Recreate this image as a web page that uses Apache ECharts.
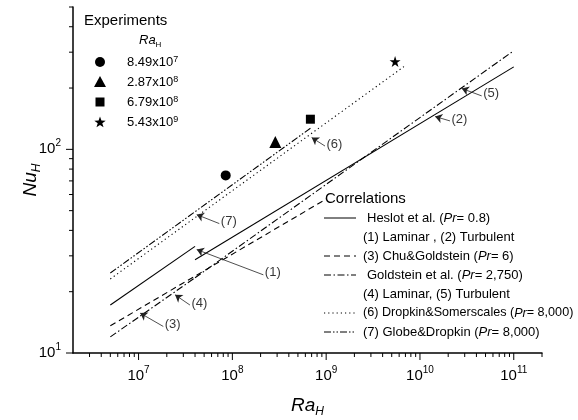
<!DOCTYPE html>
<html>
<head>
<meta charset="utf-8">
<script src="https://cdn.jsdelivr.net/npm/echarts@6/dist/echarts.min.js"></script>
<style>html,body{margin:0;padding:0;background:#fff}#c{width:578px;height:420px}</style>
</head>
<body>
<div id="c"></div>
<script>
// ---------------- data ----------------
const xMin = 2e6, xMax = 2e11, yMin = 10, yMax = 500;
const xMajorTicks = [1e7, 1e8, 1e9, 1e10, 1e11];
const yMajorTicks = [10, 100];
const minorMultipliers = [2, 3, 4, 5, 6, 7, 8, 9];

// experiments
const expRa = [8.49e7, 2.87e8, 6.79e8, 5.43e9];
const expNu = [74.5, 108.7, 140.6, 270];
const expLegend = ['8.49x10{sup|7}', '2.87x10{sup|8}', '6.79x10{sup|8}', '5.43x10{sup|9}'];

// correlations (end points of each power-law segment)
const heslotLamRa = [5e6, 4e7],  heslotLamNu = [17.2, 33.4];
const heslotTurbRa = [4e7, 1e11], heslotTurbNu = [28.7, 254];
const chuRa = [5e6, 1e9],        chuNu = [13.6, 57];
const goldLamRa = [5e6, 4e7],    goldLamNu = [12.0, 23.4];
const goldTurbRa = [4e7, 1e11],  goldTurbNu = [23.4, 305];
const dropRa = [5e6, 7e9],       dropNu = [23.1, 258];
const globeRa = [5e6, 6.8e8],    globeNu = [24.7, 127];

// annotation arrows (tip on curve, tail at label)
const annNames  = ['(1)', '(2)', '(3)', '(4)', '(5)', '(6)', '(7)'];
const annTipRa  = [4.17e7, 1.45e10, 1.04e7, 2.45e7, 2.79e10, 7.01e8, 4.17e7];
const annTipNu  = [32.2, 144.9, 15.7, 19.3, 199, 114.2, 47.8];
const annTailRa = [2.14e8, 2.09e10, 1.835e7, 3.53e7, 4.55e10, 9.72e8, 7.26e7];
const annTailNu = [24.2, 137.9, 13.5, 17.2, 183, 103.8, 43.2];

// legend texts
const corrTitle = 'Correlations';
const corrTexts = [
  'Heslot et al. ({i|Pr}= 0.8)',
  '(1) Laminar , (2) Turbulent',
  '(3) Chu&Goldstein ({i|Pr}= 6)',
  'Goldstein et al. ({i|Pr}= 2,750)',
  '(4) Laminar, (5) Turbulent',
  '(6) Dropkin&Somerscales ({i|Pr}= 8,000)',
  '(7) Globe&Dropkin ({i|Pr}= 8,000)'
];
const expTitle = 'Experiments';

// ---------------- styles ----------------
const FONT = '"Liberation Sans", Arial, Helvetica, sans-serif';
const DASH = {
  solid: 'solid',
  dashed: [6, 4],
  dashdot: [7, 2.5, 1.5, 2.5],
  dotted: [1.2, 3],
  dashdotdot: [7, 2, 1.5, 2, 1.5, 2]
};
const STAR = 'path://M50 0 L61.23 34.55 L97.55 34.55 L68.17 55.9 L79.39 90.45 L50 69.1 L20.61 90.45 L31.83 55.9 L2.45 34.55 L38.77 34.55 Z';
const expSymbols = ['circle', 'triangle', 'rect', STAR];
const expSizes = [10, 12, 9, 11];

function zip(a, b) { return a.map((v, i) => [v, b[i]]); }
function lineSeries(name, ra, nu, dash) {
  return {
    type: 'line', name: name, data: zip(ra, nu), symbol: 'none', silent: true,
    lineStyle: { color: '#000', width: 1.1, type: dash, cap: 'butt', opacity: 1 }, z: 3
  };
}
function fmtPow(v) {
  const l = Math.log10(v);
  const e = Math.round(l);
  if (Math.abs(l - e) > 1e-6) return '';
  return '10{sup|' + e + '}';
}

// tick values
const xTicks = [];
for (let e = 6; e <= 11; e++) {
  minorMultipliers.forEach(m => { const v = m * Math.pow(10, e); if (v > xMin * 1.0001 && v <= xMax * 1.0001) xTicks.push([v, yMin, 0]); });
}
xMajorTicks.forEach(v => xTicks.push([v, yMin, 1]));
const yTicks = [];
for (let e = 1; e <= 2; e++) {
  minorMultipliers.forEach(m => { const v = m * Math.pow(10, e); if (v <= yMax * 1.0001) yTicks.push([xMin, v, 0]); });
}
yMajorTicks.forEach(v => yTicks.push([xMin, v, 1]));

const series = [
  lineSeries('Heslot laminar', heslotLamRa, heslotLamNu, DASH.solid),
  lineSeries('Heslot turbulent', heslotTurbRa, heslotTurbNu, DASH.solid),
  lineSeries('Chu&Goldstein', chuRa, chuNu, DASH.dashed),
  lineSeries('Goldstein laminar', goldLamRa, goldLamNu, DASH.dashdot),
  lineSeries('Goldstein turbulent', goldTurbRa, goldTurbNu, DASH.dashdot),
  lineSeries('Dropkin&Somerscales', dropRa, dropNu, DASH.dotted),
  lineSeries('Globe&Dropkin', globeRa, globeNu, DASH.dashdotdot)
];
expRa.forEach((ra, i) => {
  series.push({
    type: 'scatter', name: 'exp' + i, data: [[ra, expNu[i]]],
    symbol: expSymbols[i], symbolSize: expSizes[i], silent: true,
    itemStyle: { color: '#000', opacity: 1 }, z: 5
  });
});
series.push({
  type: 'lines', coordinateSystem: 'cartesian2d', silent: true, z: 4,
  symbol: ['none', 'arrow'], symbolSize: [0, 7],
  lineStyle: { color: '#222', width: 0.8, opacity: 1 },
  data: annNames.map((n, i) => ({ coords: [[annTailRa[i], annTailNu[i]], [annTipRa[i], annTipNu[i]]] }))
});
series.push({
  type: 'scatter', silent: true, z: 6, symbolSize: 1,
  itemStyle: { color: 'rgba(0,0,0,0)' },
  label: { show: true, position: 'right', distance: 1, offset: [0, -2], formatter: '{b}', color: '#000', fontSize: 13, fontFamily: FONT },
  data: annNames.map((n, i) => ({ name: n, value: [annTailRa[i], annTailNu[i]] }))
});
function tickSeries(data, horizontal) {
  return {
    type: 'custom', coordinateSystem: 'cartesian2d', silent: true, clip: false, z: 10,
    data: data,
    renderItem: function (params, api) {
      const p = api.coord([api.value(0), api.value(1)]);
      const len = api.value(2) ? 7 : 4;
      const shape = horizontal
        ? { x1: p[0], y1: p[1], x2: p[0] - len, y2: p[1] }
        : { x1: p[0], y1: p[1], x2: p[0], y2: p[1] + len };
      return { type: 'line', shape: shape, style: { stroke: '#000', lineWidth: 1 } };
    }
  };
}
series.push(tickSeries(xTicks, false));
series.push(tickSeries(yTicks, true));

// ---------------- legend graphics ----------------
const graphic = [];
function txt(x, y, text, size, rich) {
  return {
    type: 'text', x: x, y: y, silent: true,
    style: { text: text, fontSize: size, fontFamily: FONT, fill: '#000', align: 'left', verticalAlign: 'middle', rich: rich || {} }
  };
}
function starPoints(cx, cy, R, r) {
  const pts = [];
  for (let k = 0; k < 10; k++) {
    const a = (-90 + k * 36) * Math.PI / 180;
    const rad = k % 2 === 0 ? R : r;
    pts.push([cx + rad * Math.cos(a), cy + rad * Math.sin(a)]);
  }
  return pts;
}
graphic.push(txt(84, 21, expTitle, 15));
graphic.push(txt(139, 40, '{i|Ra}{sub|H}', 13, {
  i: { fontSize: 13, fontStyle: 'italic', fontFamily: FONT, fill: '#000', lineHeight: 18 },
  sub: { fontSize: 8, lineHeight: 8, verticalAlign: 'bottom', fontFamily: FONT, fill: '#000' }
}));
const expLegY = [62, 82, 102, 122];
graphic.push({ type: 'circle', silent: true, shape: { cx: 100, cy: expLegY[0], r: 5 }, style: { fill: '#000' } });
graphic.push({ type: 'polygon', silent: true, shape: { points: [[100, expLegY[1] - 6], [106, expLegY[1] + 5], [94, expLegY[1] + 5]] }, style: { fill: '#000' } });
graphic.push({ type: 'rect', silent: true, shape: { x: 95.5, y: expLegY[2] - 4.5, width: 9, height: 9 }, style: { fill: '#000' } });
graphic.push({ type: 'polygon', silent: true, shape: { points: starPoints(100, expLegY[3] + 0.5, 6, 2.4) }, style: { fill: '#000' } });
expLegend.forEach((t, i) => graphic.push(txt(127, expLegY[i], t, 13, { sup: { fontSize: 9, lineHeight: 8, verticalAlign: 'top', fontFamily: FONT, fill: '#000' } })));

graphic.push(txt(325, 199, corrTitle, 15));
const corrY = [218, 237, 256, 275, 294, 313, 332];
const corrX = [367, 363, 363, 367, 363, 363, 363];
const corrSize = [13, 13, 13, 13, 13, 12.6, 13];
const corrDash = [DASH.solid, null, DASH.dashed, DASH.dashdot, null, DASH.dotted, DASH.dashdotdot];
corrTexts.forEach((t, i) => {
  graphic.push(txt(corrX[i], corrY[i], t, corrSize[i], { i: { fontSize: corrSize[i], fontStyle: 'italic', fontFamily: FONT, fill: '#000' } }));
  if (corrDash[i]) {
    graphic.push({
      type: 'line', silent: true,
      shape: { x1: 324, y1: corrY[i], x2: 356, y2: corrY[i] },
      style: { stroke: '#000', lineWidth: 1, lineDash: corrDash[i] === 'solid' ? null : corrDash[i] }
    });
  }
});

// ---------------- chart ----------------
const chart = echarts.init(document.getElementById('c'), null, { renderer: 'canvas' });
chart.setOption({
  animation: false,
  backgroundColor: '#fff',
  grid: { left: 73, right: 36, top: 7, bottom: 67, containLabel: false, outerBoundsMode: 'none' },
  xAxis: {
    type: 'log', logBase: 10, min: xMin, max: xMax,
    name: '{i|Ra}{sub|H}', nameLocation: 'middle', nameGap: 41, nameMoveOverlap: false,
    nameTextStyle: {
      rich: {
        i: { fontSize: 19, fontStyle: 'italic', fontFamily: FONT, color: '#000', lineHeight: 24 },
        sub: { fontSize: 12, lineHeight: 10, verticalAlign: 'bottom', fontStyle: 'italic', fontFamily: FONT, color: '#000' }
      }
    },
    axisLine: { show: true, onZero: false, lineStyle: { color: '#000', width: 1.5 } },
    axisTick: { show: false },
    splitLine: { show: false },
    axisLabel: {
      formatter: fmtPow, margin: 12, color: '#000', fontSize: 15, fontFamily: FONT, lineHeight: 22,
      rich: { sup: { fontSize: 10, lineHeight: 10, verticalAlign: 'top', fontFamily: FONT, color: '#000' } }
    }
  },
  yAxis: {
    type: 'log', logBase: 10, min: yMin, max: yMax,
    name: '{i|Nu}{sub|H}', nameLocation: 'middle', nameGap: 30, nameRotate: 90, nameMoveOverlap: false,
    nameTextStyle: {
      rich: {
        i: { fontSize: 19, fontStyle: 'italic', fontFamily: FONT, color: '#000', lineHeight: 24 },
        sub: { fontSize: 12, lineHeight: 10, verticalAlign: 'bottom', fontStyle: 'italic', fontFamily: FONT, color: '#000' }
      }
    },
    axisLine: { show: true, onZero: false, lineStyle: { color: '#000', width: 1.5 } },
    axisTick: { show: false },
    splitLine: { show: false },
    axisLabel: {
      formatter: fmtPow, margin: 12, color: '#000', fontSize: 15, fontFamily: FONT, lineHeight: 22,
      rich: { sup: { fontSize: 10, lineHeight: 10, verticalAlign: 'top', fontFamily: FONT, color: '#000' } }
    }
  },
  graphic: graphic,
  series: series
});
</script>
</body>
</html>
